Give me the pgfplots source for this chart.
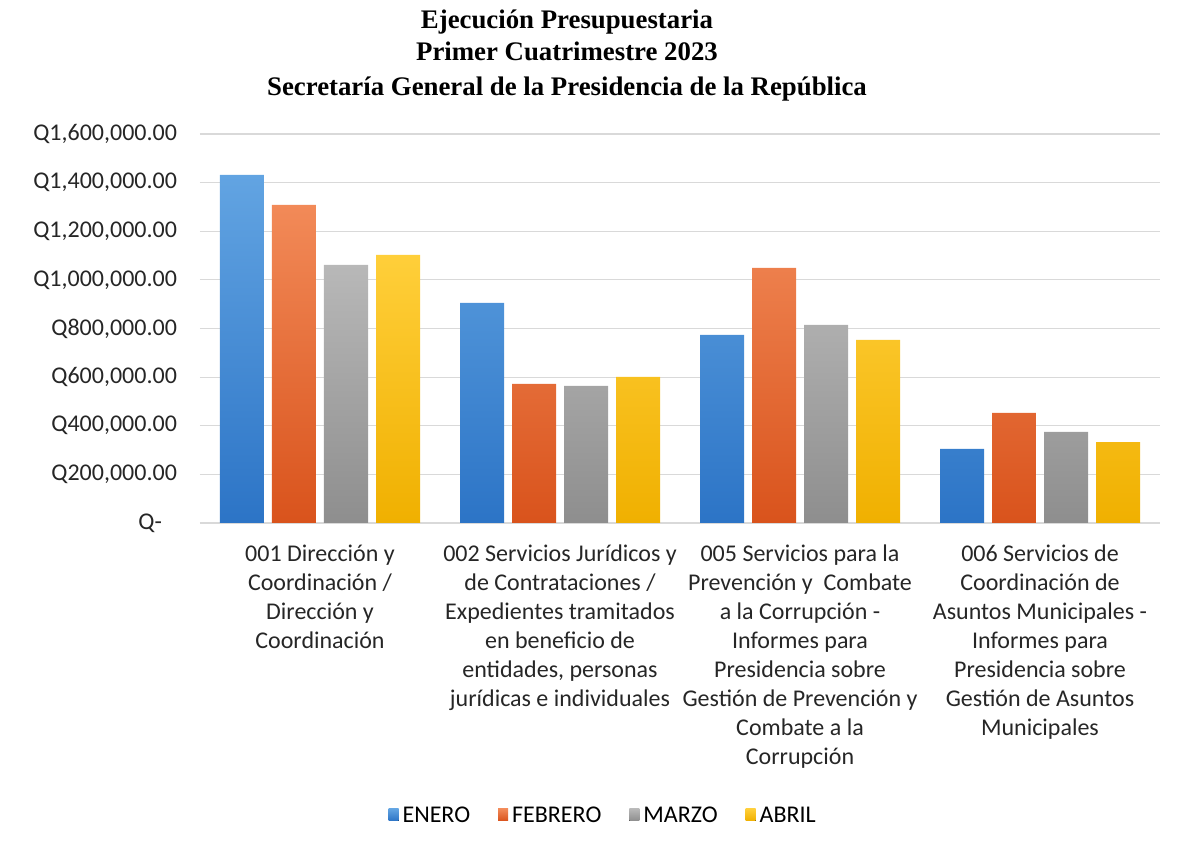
\documentclass[border=0pt]{standalone}
\usepackage{fontspec}
\setmainfont{Carlito}
\newfontfamily\titlefont{Liberation Serif}
\usepackage{pgfplots}
\pgfplotsset{compat=1.18}
\definecolor{eneT}{HTML}{62A4E2}
\definecolor{eneB}{HTML}{2C74C6}
\definecolor{febT}{HTML}{F28A58}
\definecolor{febB}{HTML}{D9531C}
\definecolor{marT}{HTML}{B8B8B8}
\definecolor{marB}{HTML}{8E8E8E}
\definecolor{abrT}{HTML}{FFCF3A}
\definecolor{abrB}{HTML}{F0B000}
\begin{document}
\begin{tikzpicture}
\path[use as bounding box] (0,0) rectangle (594.5pt,424.5pt);
\node[font=\titlefont\bfseries\fontsize{13.4}{15}\selectfont] at (283.5pt,413.5pt) {Ejecución Presupuestaria};
\node[font=\titlefont\bfseries\fontsize{13.4}{15}\selectfont] at (283.5pt,399pt) {Primer Cuatrimestre 2023};
\node[font=\titlefont\bfseries\fontsize{13.4}{15}\selectfont] at (283.5pt,380pt) {Secretaría General de la Presidencia de la República};
\begin{axis}[
  at={(100pt,163pt)}, anchor=south west, scale only axis,
  width=480pt, height=194.5pt,
  xmin=-0.5, xmax=3.5, ymin=0, ymax=1600000,
  scaled y ticks=false,
  ybar=4pt, bar width=22pt,
  axis line style={draw=none}, tick style={draw=none},
  ymajorgrids, grid style={draw=black!15, line width=0.6pt},
  ytick={0,200000,400000,600000,800000,1000000,1200000,1400000,1600000},
  yticklabels={{Q-\hspace*{7.5pt}},{Q200,000.00},{Q400,000.00},{Q600,000.00},{Q800,000.00},{Q1,000,000.00},{Q1,200,000.00},{Q1,400,000.00},{Q1,600,000.00}},
  yticklabel style={font=\fontsize{12}{14.5}\selectfont, xshift=-8pt, text=black!85},
  xtick={0,1,2,3},
  xticklabels={
    {001 Dirección y\\Coordinación /\\Dirección y\\Coordinación},
    {002 Servicios Jurídicos y\\de Contrataciones /\\Expedientes tramitados\\en beneficio de\\entidades, personas\\jurídicas e individuales},
    {005 Servicios para la\\Prevención y\ \ Combate\\a la Corrupción -\\Informes para\\Presidencia sobre\\Gestión de Prevención y\\Combate a la\\Corrupción},
    {006 Servicios de\\Coordinación de\\Asuntos Municipales -\\Informes para\\Presidencia sobre\\Gestión de Asuntos\\Municipales}},
  xticklabel style={align=center, font=\fontsize{12}{14.5}\selectfont, yshift=-3pt, text=black!85},
  legend columns=-1,
  legend style={at={(0.421,-0.75)}, anchor=center, draw=none, fill=none,
    font=\fontsize{12}{14.5}\selectfont,
    nodes={text height=8pt, text depth=0pt},
    /tikz/every even column/.append style={column sep=12pt}},
  legend image code/.code={\fill[#1] (0pt,-3pt) rectangle (5pt,3pt);},
]
\addplot[draw=none, top color=eneT, bottom color=eneB] coordinates {(0,1432000) (1,905000) (2,774000) (3,304500)};
\addplot[draw=none, top color=febT, bottom color=febB] coordinates {(0,1308000) (1,572000) (2,1049000) (3,452700)};
\addplot[draw=none, top color=marT, bottom color=marB] coordinates {(0,1061700) (1,564000) (2,815000) (3,374500)};
\addplot[draw=none, top color=abrT, bottom color=abrB] coordinates {(0,1102800) (1,601000) (2,753000) (3,333000)};
\legend{ENERO,FEBRERO,MARZO,ABRIL}
\end{axis}
\end{tikzpicture}
\end{document}
